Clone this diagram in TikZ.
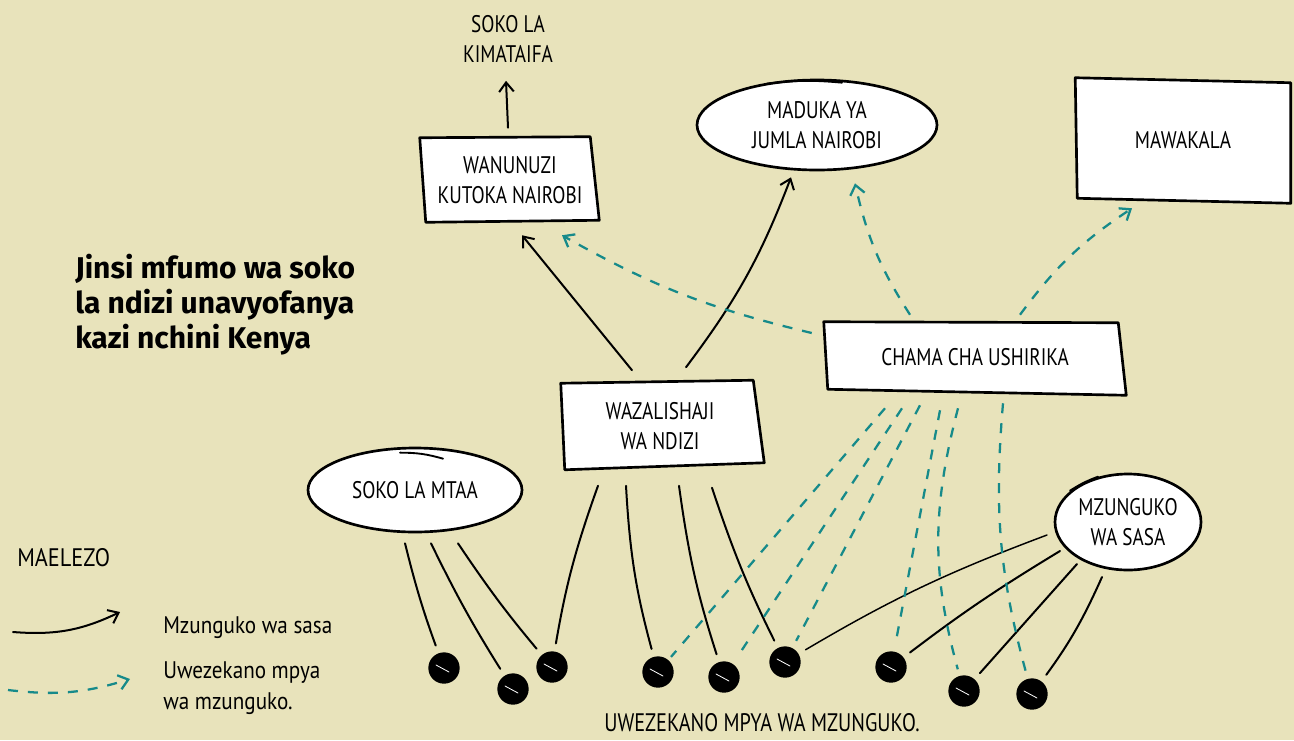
\documentclass[tikz,border=0pt]{standalone}
\usepackage{fontspec}
\setmainfont{PT Sans}
\newfontfamily\hand[FakeStretch=0.8]{PT Sans}
\newfontfamily\handw[FakeStretch=0.88]{PT Sans}
\newfontfamily\titlefont{Fira Sans}
\usetikzlibrary{arrows.meta,calc,shapes.geometric,backgrounds}
\definecolor{bgc}{RGB}{232,227,187}
\definecolor{tealc}{RGB}{22,138,138}
\tikzset{
  lbl/.style={font=\hand\fontsize{18}{22.5}\selectfont, align=center, inner sep=0pt},
  leg/.style={font=\handw\fontsize{18}{23}\selectfont, align=left, inner sep=0pt, anchor=west},
  ellbox/.style={lbl, ellipse, draw, fill=white, line width=2pt},
  skew/.style={draw, fill=white, line width=2pt, line join=round},
  cur/.style={line width=1.5pt, line cap=round},
  arr/.style={cur, -{Straight Barb[length=7pt,width=11pt]}},
  opp/.style={tealc, line width=1.7pt, dash pattern=on 7.5pt off 7.5pt},
  oarr/.style={opp, -{Straight Barb[length=7pt,width=11pt]}},
  dot/.style={circle, fill=black, minimum size=23.5pt, inner sep=0pt},
  tail/.style={line width=1.4pt, line cap=round},
}
\begin{document}
\begin{tikzpicture}[x=0.75pt,y=-0.75pt]
\useasboundingbox (0,0) rectangle (1294,740);

% text-only nodes
\node[lbl] (intl) at (508,39) {SOKO LA\\KIMATAIFA};
\node[font=\titlefont\bfseries\fontsize{22.5}{26.25}\selectfont, align=left, anchor=west, inner sep=0pt] (title) at (75,305) {Jinsi mfumo wa soko\\la ndizi unavyofanya\\kazi nchini Kenya};

% boxes (outline drawn on background layer)
\node[lbl, minimum width=135pt, minimum height=63pt] (nb) at (510,180) {WANUNUZI\\KUTOKA NAIROBI};
\node[lbl, minimum width=161.25pt, minimum height=91.5pt] (mw) at (1183,140) {MAWAKALA};
\node[lbl, minimum width=225pt, minimum height=52.5pt] (ch) at (975,357) {CHAMA CHA USHIRIKA};
\node[lbl, minimum width=150pt, minimum height=63.75pt] (wz) at (660,426) {WAZALISHAJI\\WA NDIZI};

% ellipses
\node[ellbox, minimum width=180pt, minimum height=67.5pt] (md) at (817,125) {MADUKA YA\\JUMLA NAIROBI};
\node[ellbox, minimum width=160.5pt, minimum height=63pt] (sk) at (415,490) {SOKO LA MTAA};
\node[ellbox, minimum width=109.5pt, minimum height=72pt] (mz) at (1128,522) {MZUNGUKO\\WA SASA};
\draw[tail] ($(md.north)+(-50,5)$) to[bend left=6] ($(md.north)+(25,4)$);
\draw[tail] ($(sk.north)+(-15,6)$) to[bend left=8] ($(sk.north)+(28,12)$);
\draw[tail] ($(mz.north)+(-58,18)$) to[bend left=6] ($(mz.north)+(-30,4)$);

% dots
\foreach \n/\x/\y in {1/444/668, 2/513/689, 3/552/667, 4/658/672, 5/724/677, 6/785/662, 7/891/667, 8/964/691, 9/1032/694}
  \node[dot] (d\n) at (\x,\y) {};
\foreach \n in {1,...,9}
  \draw[white, line width=0.6pt, line cap=round] ($(d\n)+(-8,-3)$) -- ($(d\n)+(5,4)$);

% current flow (black)
\draw[arr] ($(nb.north)+(-2,-10)$) -- ($(intl.south)+(-2,18)$);
\draw[arr] ($(wz.north)+(-28,-13)$) -- ($(nb.south)+(12,13)$);
\draw[arr] ($(wz.north)+(26,-16)$) to[bend right=8] ($(md.south)+(-26,6)$);

\draw[cur, shorten >=6pt] ($(sk.south)+(-10,10)$) to[bend right=3] (d1);
\draw[cur, shorten >=6pt] ($(sk.south)+(16,10)$) to[bend right=3] (d2);
\draw[cur, shorten >=6pt] ($(sk.south)+(43,10)$) to[bend right=3] (d3);

\draw[cur, shorten >=6pt] ($(wz.south)+(-62,17)$) to[bend right=5] (d3);
\draw[cur, shorten >=6pt] ($(wz.south)+(-34,17)$) to[bend right=6] (d4);
\draw[cur, shorten >=6pt] ($(wz.south)+(19,17)$) to[bend right=5] (d5);
\draw[cur, shorten >=6pt] ($(wz.south)+(52,19)$) to[bend right=4] (d6);

\draw[cur, line width=1.1pt, shorten >=6pt] ($(mz.center)+(-81,13)$) to[bend right=5] (d6);
\draw[cur, shorten >=6pt] ($(mz.center)+(-68,29)$) to[bend right=3] (d7);
\draw[cur, shorten >=6pt] ($(mz.center)+(-51,42)$) -- (d8);
\draw[cur, shorten >=6pt] ($(mz.center)+(-26,55)$) to[bend left=6] (d9);

% new opportunities (teal dashed)
\draw[oarr] ($(ch.west)+(-13,-24)$) to[bend left=8] ($(nb.south)+(52,13)$);
\draw[oarr] ($(ch.north)+(-65,-7)$) to[bend left=10] ($(md.south)+(38,12)$);
\draw[oarr] ($(ch.north)+(45,-7)$) to[bend left=10] ($(mw.south)+(-51,7)$);

\draw[opp, shorten >=3pt] ($(ch.south)+(-90,16)$) -- (d4);
\draw[opp, shorten >=5pt] ($(ch.south)+(-73,16)$) -- (d5);
\draw[opp, shorten >=6pt] ($(ch.south)+(-55,13)$) -- (d6);
\draw[opp, shorten >=5pt] ($(ch.south)+(-35,18)$) -- (d7);
\draw[opp, shorten >=5pt] ($(ch.south)+(-17,16)$) to[bend right=15] (d8);
\draw[opp, shorten >=5pt] ($(ch.south)+(28,11)$) to[bend right=10] (d9);

% legend
\node[lbl, font=\handw\fontsize{19}{23}\selectfont, anchor=west] (mael) at (17,558) {MAELEZO};
\coordinate (la1) at (13,632);
\coordinate (la2) at (120,612);
\draw[arr] (la1) to[bend right=15] (la2);
\node[leg] (lt1) at (163,628) {Mzunguko wa sasa};
\coordinate (lb1) at (8,690);
\coordinate (lb2) at (130,679);
\draw[oarr] (lb1) to[bend right=12] (lb2);
\node[leg] (lt2) at (163,688) {Uwezekano mpya\\wa mzunguko.};

\node[lbl, font=\hand\fontsize{19}{23}\selectfont] (bot) at (762,723) {UWEZEKANO MPYA WA MZUNGUKO.};

\begin{pgfonlayer}{background}
\fill[bgc] (0,0) rectangle (1294,740);
\draw[skew] ($(nb.north west)+(0,0)$) -- ($(nb.north east)+(-10,-1)$) -- ($(nb.south east)+(-1,-2)$) -- ($(nb.south west)+(6,0)$) -- cycle;
\draw[skew] ($(mw.north west)+(0,-1)$) -- ($(mw.north east)+(0,4)$) -- ($(mw.south east)+(0,2)$) -- ($(mw.south west)+(2,-3)$) -- cycle;
\draw[skew] ($(ch.north west)+(-1,0)$) -- ($(ch.north east)+(-7,1)$) -- ($(ch.south east)+(1,3)$) -- ($(ch.south west)+(3,-3)$) -- cycle;
\draw[skew] ($(wz.north west)+(1,0)$) -- ($(wz.north east)+(-7,-3)$) -- ($(wz.south east)+(4,-6)$) -- ($(wz.south west)+(5,1)$) -- cycle;
\end{pgfonlayer}
\end{tikzpicture}
\end{document}
